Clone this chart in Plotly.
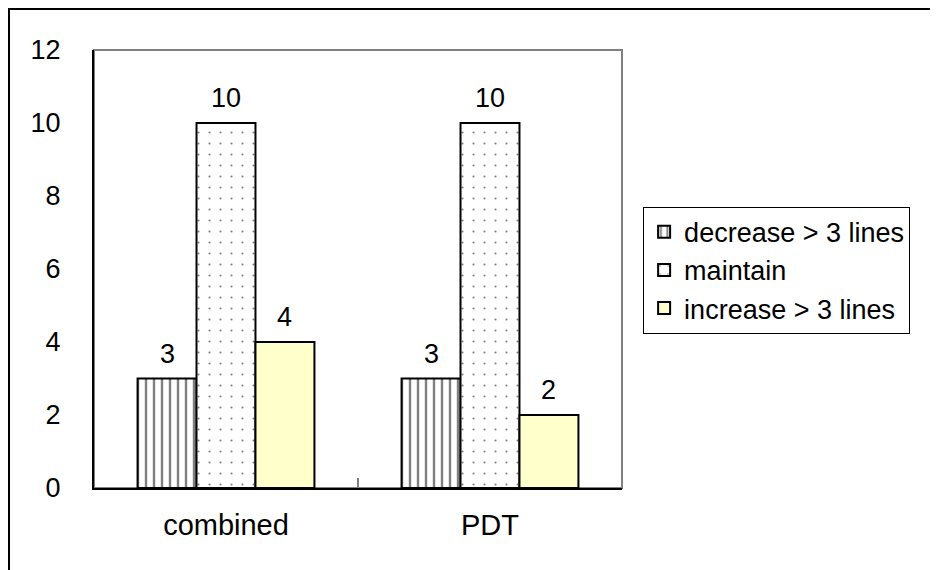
import plotly.graph_objects as go

categories = ["combined", "PDT"]
series_names = ["decrease > 3 lines", "maintain", "increase > 3 lines"]
decrease = [3, 3]
maintain = [10, 10]
increase = [4, 2]
y_ticks = [0, 2, 4, 6, 8, 10, 12]

FONT = "Liberation Sans, Arial, sans-serif"
BARGAP = 0.33
PLOT_W = 528

fig = go.Figure()
fig.add_trace(go.Bar(
    x=categories, y=decrease, name=series_names[0],
    marker=dict(color="white", line=dict(color="black", width=2),
                pattern=dict(shape="|", fgcolor="black", bgcolor="white", size=8, solidity=0.3)),
))
fig.add_trace(go.Bar(
    x=categories, y=maintain, name=series_names[1],
    marker=dict(color="white", line=dict(color="black", width=2),
                pattern=dict(shape=".", fgcolor="black", bgcolor="white", size=11, solidity=0.03)),
))
fig.add_trace(go.Bar(
    x=categories, y=increase, name=series_names[2],
    marker=dict(color="#FFFFCC", line=dict(color="black", width=2)),
))

# value labels above bars
bar_px = PLOT_W / len(categories) * (1 - BARGAP) / 3
for i, series in enumerate([decrease, maintain, increase]):
    for cat, v in zip(categories, series):
        fig.add_annotation(x=cat, y=v, text=str(v), showarrow=False,
                           xshift=(i - 1) * bar_px, yshift=8, yanchor="bottom",
                           font=dict(size=27, family=FONT, color="black"))

# plot frame (gray top/right)
fig.add_shape(type="rect", xref="paper", yref="paper", x0=0, x1=1, y0=0, y1=1,
              line=dict(color="#808080", width=2), layer="below")
# outer chart border
fig.add_shape(type="rect", xref="paper", yref="paper", x0=-0.161, x1=2.0, y0=-1.0, y1=1.0936,
              line=dict(color="black", width=2), layer="below")

fig.update_layout(
    width=938, height=570,
    margin=dict(l=86, r=324, t=42, b=90),
    paper_bgcolor="white", plot_bgcolor="white",
    font=dict(family=FONT, size=27, color="black"),
    barmode="group", bargap=BARGAP, bargroupgap=0,
    showlegend=True,
    legend=dict(x=1.04, y=0.642, xanchor="left", yanchor="top",
                bgcolor="white", bordercolor="black", borderwidth=1,
                font=dict(size=27, family=FONT, color="black"),
                tracegroupgap=0, itemwidth=30),
    xaxis=dict(showline=True, linecolor="black", linewidth=2,
               ticks="inside", tickson="boundaries", ticklen=10, tickcolor="#808080", tickwidth=2,
               tickfont=dict(size=29), showgrid=False, ticklabelstandoff=10),
    yaxis=dict(range=[0, 12], tickvals=y_ticks, showline=True, linecolor="black", linewidth=2,
               showgrid=False, zeroline=False, ticks="", tickfont=dict(size=27), ticklabelstandoff=26),
)

fig.write_html("out.html")
